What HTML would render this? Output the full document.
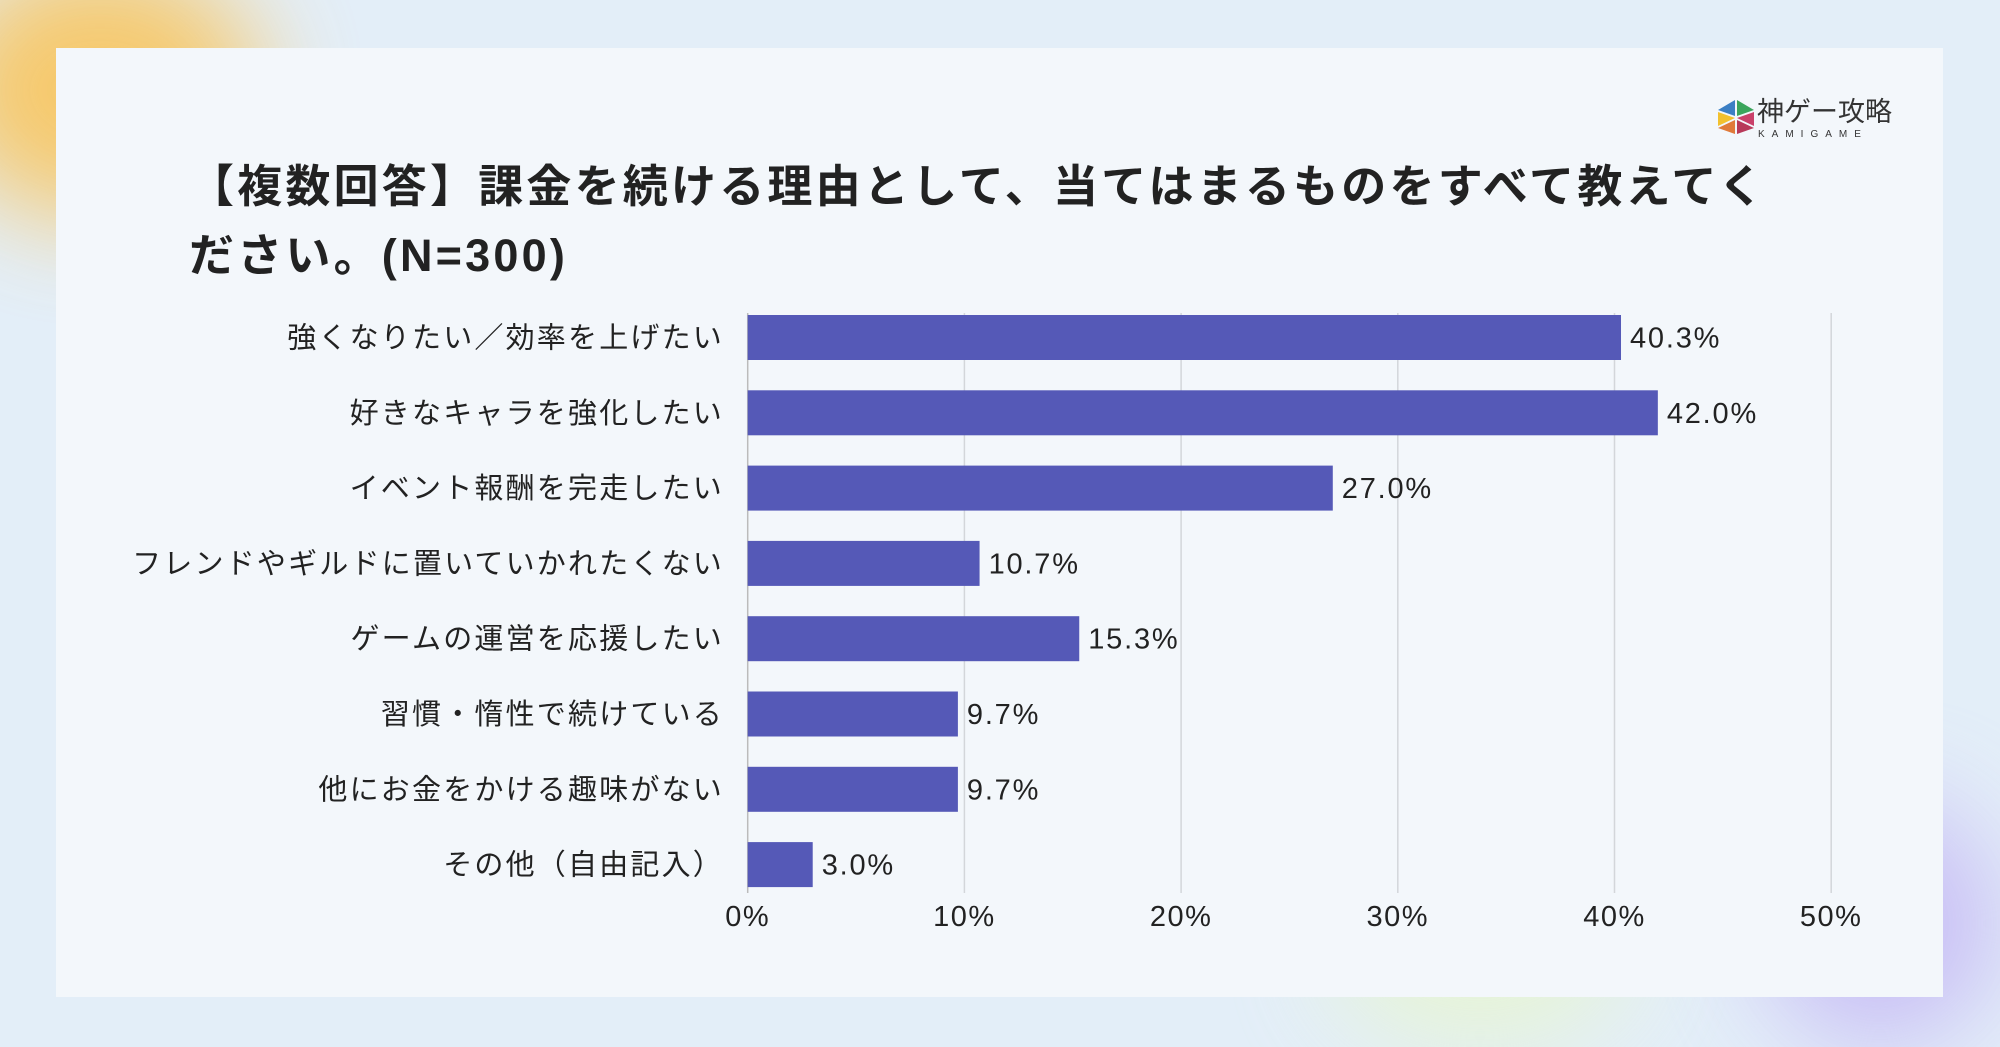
<!DOCTYPE html>
<html><head><meta charset="utf-8"><style>
html,body{margin:0;width:2000px;height:1047px;overflow:hidden}
body{background:#e3eef8;font-family:"Liberation Sans","Noto Sans CJK JP",sans-serif}
#wrap{position:relative;width:2000px;height:1047px;overflow:hidden}
.blob{position:absolute;border-radius:50%;filter:blur(50px)}
#card{position:absolute;left:56px;top:48px;width:1887px;height:949px;background:#f3f7fb}
</style></head><body>
<div id="wrap">
<div class="blob" style="left:-60px;top:-40px;width:320px;height:260px;background:#fbc04a;opacity:.8"></div>
<div class="blob" style="left:1760px;top:800px;width:240px;height:247px;background:#c3b4f5;opacity:.8"></div>
<div class="blob" style="left:1330px;top:850px;width:300px;height:197px;background:#e8f7c8;opacity:.7"></div>
<div id="card"></div>
<svg width="2000" height="1047" style="position:absolute;left:0;top:0;display:block" id="svg">
<g>
<polygon points="1735,100 1718,110 1735,116" fill="#3b7fc4"/>
<polygon points="1737,100 1754,110 1737,116" fill="#3aa55c"/>
<polygon points="1718,112 1735,118 1718,126" fill="#f2c12e"/>
<polygon points="1754,112 1737,118 1754,126" fill="#c9406a"/>
<polygon points="1718,128 1735,120 1735,134" fill="#e07a3a"/>
<polygon points="1754,128 1737,120 1737,134" fill="#b83a5a"/>
<text x="1757" y="121" font-size="27" fill="#333" font-family="Liberation Sans, Noto Sans CJK JP, sans-serif">神ゲー攻略</text>
<text x="1758" y="137" font-size="10" fill="#333" letter-spacing="7" font-family="Liberation Sans, sans-serif">KAMIGAME</text>
</g>
<text x="189" y="202" font-size="45" font-weight="bold" letter-spacing="3.2" fill="#222" font-family="Liberation Sans, Noto Sans CJK JP, sans-serif">【複数回答】課金を続ける理由として、当てはまるものをすべて教えてく</text>
<text x="189" y="271" font-size="45" font-weight="bold" letter-spacing="3.2" fill="#222" font-family="Liberation Sans, Noto Sans CJK JP, sans-serif">ださい。(N=300)</text>
<g id="grid"></g><g id="bars"></g>
</svg>
</div>
<script>
const categories=["強くなりたい／効率を上げたい","好きなキャラを強化したい","イベント報酬を完走したい","フレンドやギルドに置いていかれたくない","ゲームの運営を応援したい","習慣・惰性で続けている","他にお金をかける趣味がない","その他（自由記入）"];
const values=[40.3,42.0,27.0,10.7,15.3,9.7,9.7,3.0];
const ticks=[0,10,20,30,40,50];
const NS="http://www.w3.org/2000/svg";
const x0=747.7,pxPer=21.67,yTop=315,step=75.3,bh=45;
const xs=v=>x0+v*pxPer;
const ys=i=>yTop+i*step;
const grid=document.getElementById('grid'),bars=document.getElementById('bars');
function mk(tag,attrs,parent){const e=document.createElementNS(NS,tag);for(const k in attrs)e.setAttribute(k,attrs[k]);parent.appendChild(e);return e;}
const F="Liberation Sans, Noto Sans CJK JP, sans-serif";
ticks.forEach(t=>{
 const l=mk('line',{x1:xs(t),x2:xs(t),y1:313,y2:893,stroke:t==0?'#bbb':'#d3d6da','stroke-width':1.5},grid);
 
 
 const tx=mk('text',{x:xs(t),y:926,'font-size':29,'letter-spacing':1.5,'text-anchor':'middle',fill:'#222','font-family':F},grid);
 tx.textContent=t+'%';
 
 
});
categories.forEach((c,i)=>{
 const y=ys(i);
 const r=mk('rect',{x:x0,y:y,width:xs(values[i])-x0,height:bh,fill:'#5559b7'},bars);
 
 
 const lb=mk('text',{x:724,y:y+bh/2+10,'font-size':29,'letter-spacing':2.2,'text-anchor':'end',fill:'#222','font-family':F},bars);
 lb.textContent=c;
 
 
 const vl=mk('text',{x:xs(values[i])+9,y:y+bh/2+10,'font-size':29,'letter-spacing':1.8,fill:'#222','font-family':F},bars);
 vl.textContent=values[i].toFixed(1)+'%';
 
 
});
</script>
</body></html>
